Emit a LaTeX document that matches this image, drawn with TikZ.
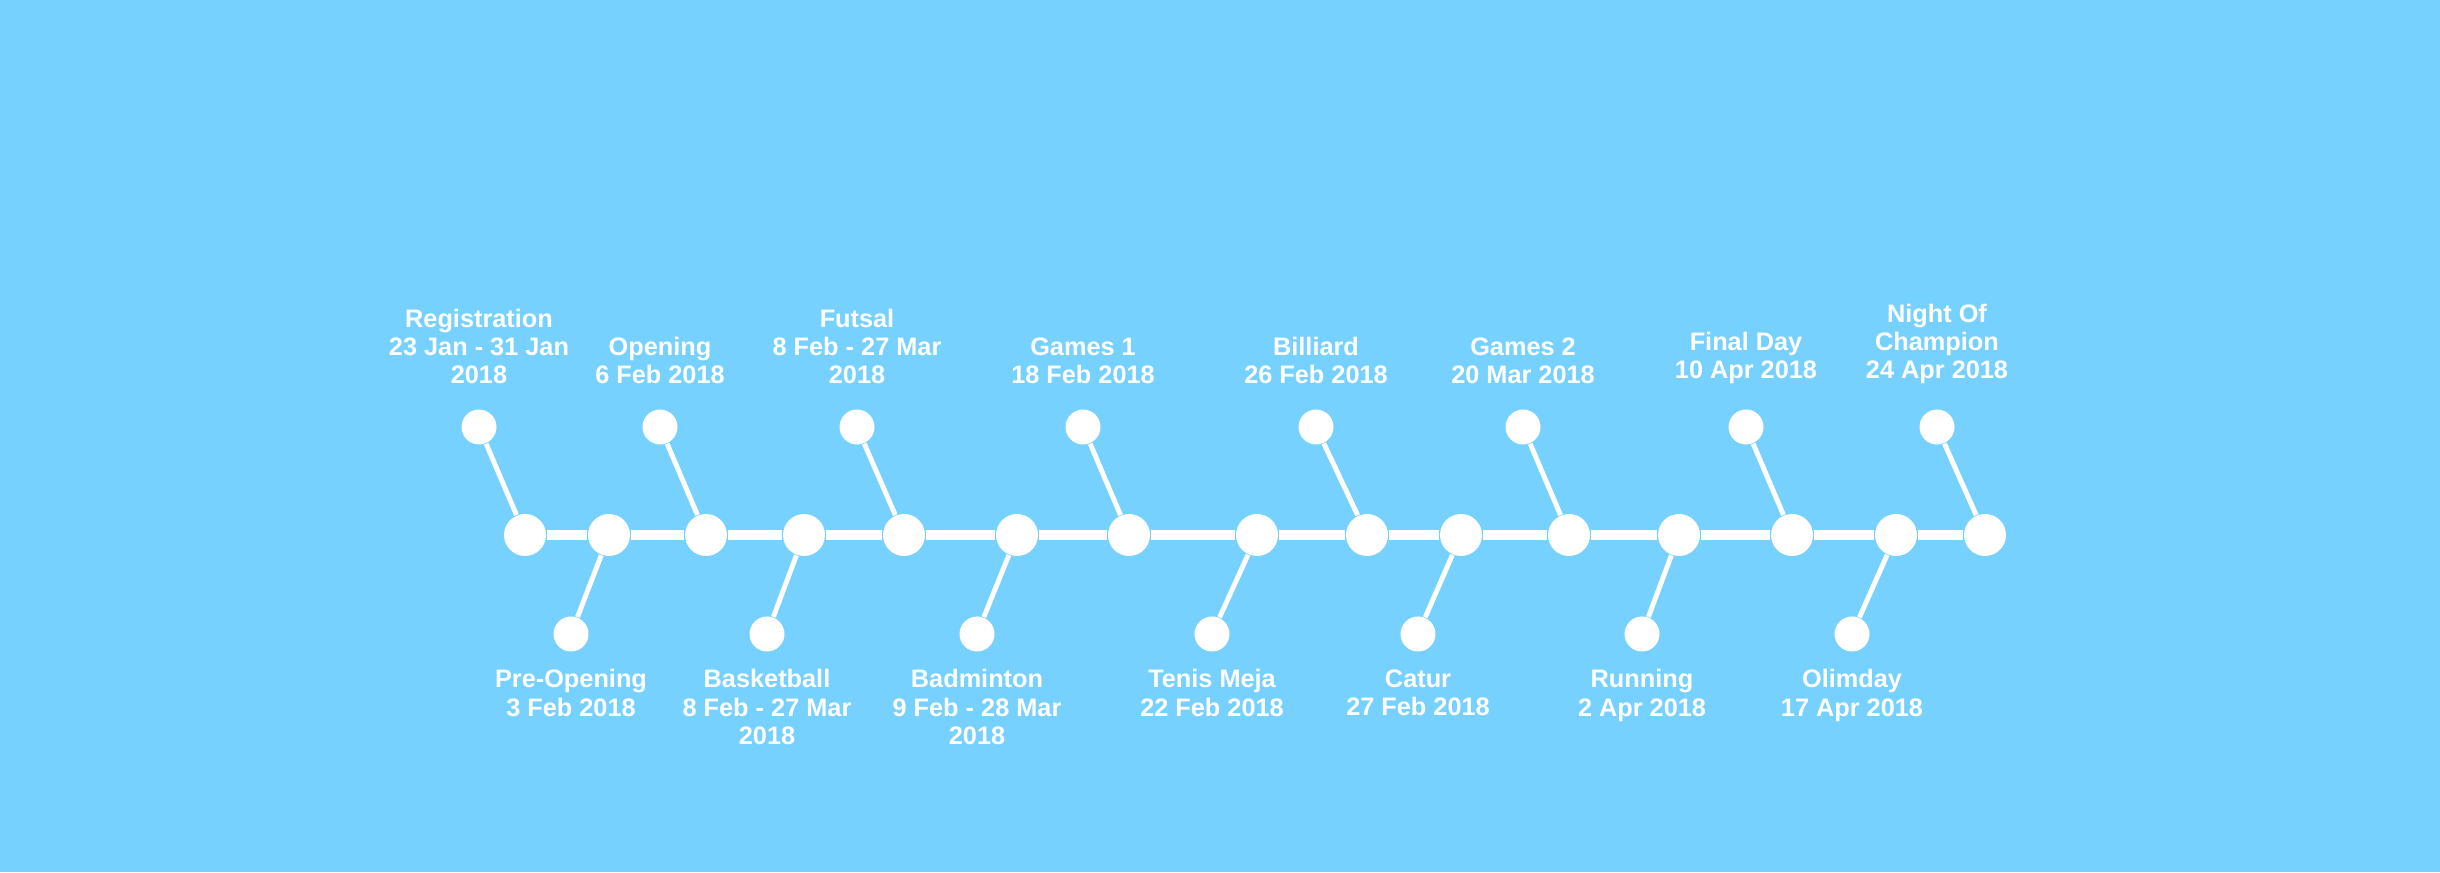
\documentclass[tikz,border=0pt]{standalone}
\usepackage{fontspec}
\setmainfont{Liberation Sans}
\usetikzlibrary{positioning}
\definecolor{skyblue}{RGB}{118,209,255}

\begin{document}
\begin{tikzpicture}[
  bigdot/.style={circle,fill=white,inner sep=0pt,minimum size=0.42cm},
  smalldot/.style={circle,fill=white,inner sep=0pt,minimum size=0.35cm},
  eventlbl/.style={align=center,text=white,inner sep=0pt,font=\fontsize{7.2pt}{8.05pt}\selectfont\bfseries}]
  \fill[skyblue] (0,0) rectangle (24.4,8.72);
  \useasboundingbox (0,0) rectangle (24.4,8.72);
  % main line
  \foreach \i/\x in {1/5.25,2/6.09,3/7.06,4/8.04,5/9.04,6/10.17,7/11.29,8/12.57,9/13.67,10/14.61,11/15.69,12/16.79,13/17.92,14/18.96,15/19.85}
    \node[bigdot] (m\i) at (\x,3.37) {};
  \foreach \i [count=\j from 2] in {1,...,14}
    \draw[white,line width=2.7pt] (m\i) -- (m\j);
  % events above
  \foreach \i/\x/\txt in {1/4.79/{Registration\\23 Jan - 31 Jan\\2018},3/6.60/{Opening\\6 Feb 2018},
      5/8.57/{Futsal\\8 Feb - 27 Mar\\2018},7/10.83/{Games 1\\18 Feb 2018},9/13.16/{Billiard\\26 Feb 2018},
      11/15.23/{Games 2\\20 Mar 2018},13/17.46/{Final Day\\10 Apr 2018},15/19.37/{Night Of\\Champion\\24 Apr 2018}}{
    \node[smalldot] (s\i) at (\x,4.45) {};
    \draw[white,line width=1.4pt] (m\i) -- (s\i);
    \node[eventlbl,above=0.24cm of s\i] (l\i) {\txt};
  }
  % events below
  \foreach \i/\x/\txt in {2/5.71/{Pre-Opening\\3 Feb 2018},4/7.67/{Basketball\\8 Feb - 27 Mar\\2018},
      6/9.77/{Badminton\\9 Feb - 28 Mar\\2018},8/12.12/{Tenis Meja\\22 Feb 2018},10/14.18/{Catur\\27 Feb 2018},
      12/16.42/{Running\\2 Apr 2018},14/18.52/{Olimday\\17 Apr 2018}}{
    \node[smalldot] (s\i) at (\x,2.38) {};
    \draw[white,line width=1.4pt] (m\i) -- (s\i);
    \node[eventlbl,below=0.165cm of s\i] (l\i) {\txt};
  }
\end{tikzpicture}
\end{document}
